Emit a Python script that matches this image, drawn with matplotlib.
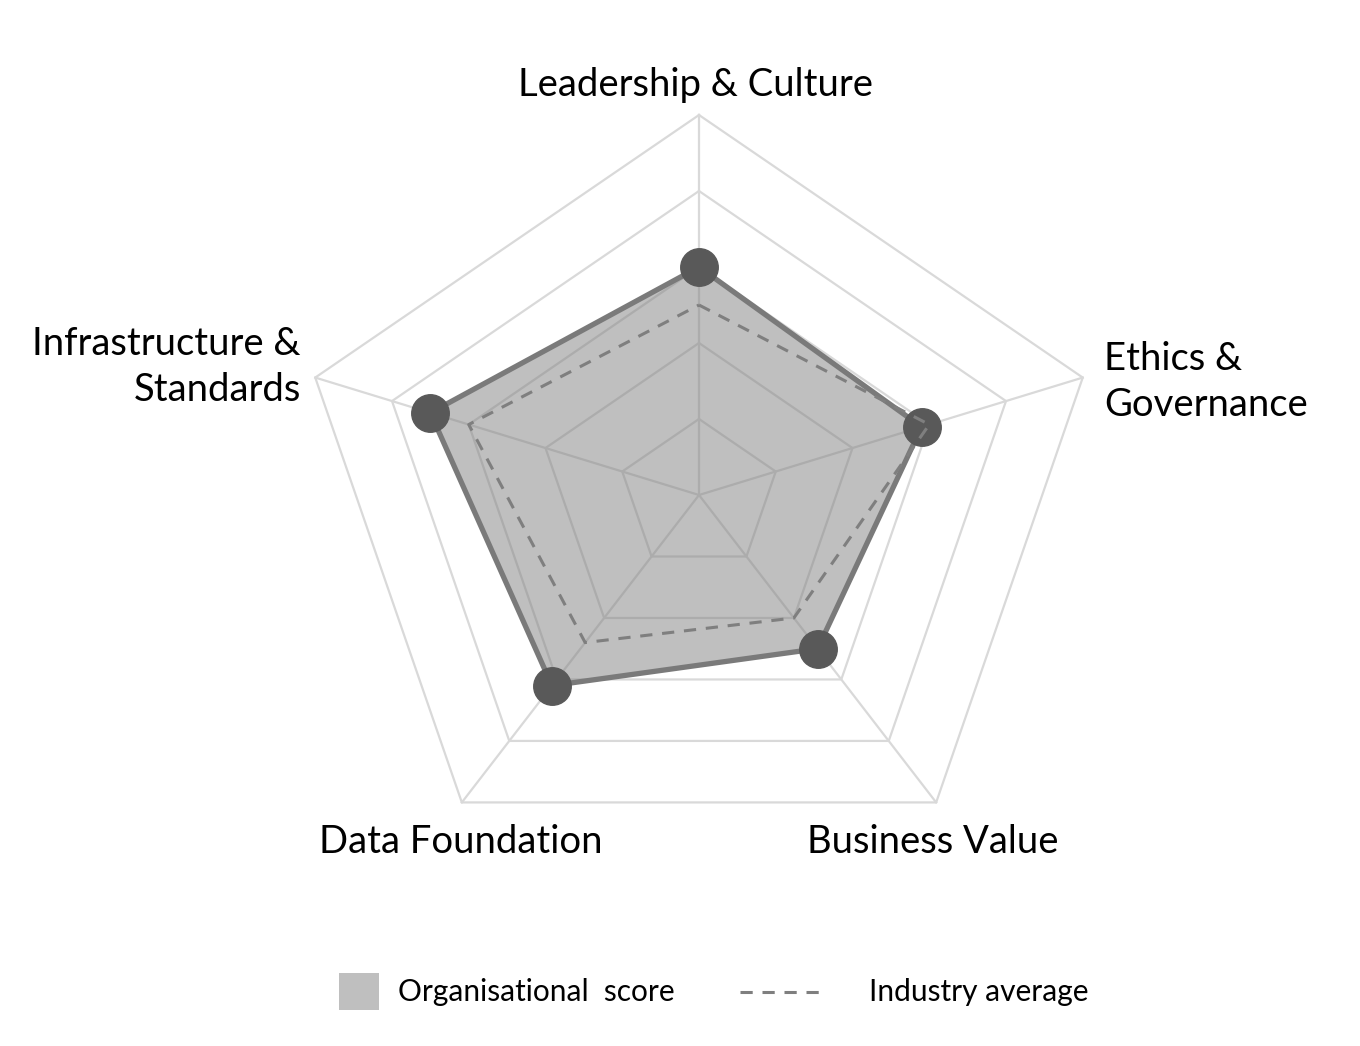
import numpy as np
import matplotlib
matplotlib.use("Agg")
import matplotlib.pyplot as plt
from matplotlib.patches import Rectangle
from matplotlib.lines import Line2D

# maturity scores per dimension (0-5 scale)
categories = ["Leadership & Culture", "Ethics &\nGovernance", "Business Value",
              "Data Foundation", "Infrastructure &\nStandards"]
org_score = [3.0, 2.9, 2.5, 3.1, 3.5]
industry_avg = [2.5, 3.0, 2.0, 2.4, 3.0]
levels = [1, 2, 3, 4, 5]

W, H = 1360, 1046
cx, cy = 699, 495          # chart centre in pixels
sx, sy = 80.7, 76.0        # pixels per score unit (x is stretched like the original)

plt.rcParams['font.family'] = ['Lato', 'DejaVu Sans']

fig = plt.figure(figsize=(W / 100, H / 100), dpi=100)
ax = fig.add_axes([0, 0, 1, 1])
ax.set_xlim(-cx / sx, (W - cx) / sx)
ax.set_ylim(-(H - cy) / sy, cy / sy)
ax.axis('off')

angles = np.deg2rad(90 - 72 * np.arange(len(categories)))


def to_xy(values):
    v = np.asarray(values, dtype=float)
    x = v * np.cos(angles)
    y = v * np.sin(angles)
    return np.append(x, x[0]), np.append(y, y[0])


grid_col = '#d9d9d9'
for lv in levels:
    gx, gy = to_xy([lv] * len(categories))
    ax.plot(gx, gy, color=grid_col, lw=1.6, zorder=1)
for a in angles:
    ax.plot([0, max(levels) * np.cos(a)], [0, max(levels) * np.sin(a)],
            color=grid_col, lw=1.6, zorder=1)

# organisational score
ox, oy = to_xy(org_score)
ax.fill(ox, oy, color='#808080', alpha=0.5, lw=0, zorder=2)
ax.plot(ox, oy, color='#7a7a7a', lw=3.8, zorder=3, solid_joinstyle='miter')
ax.plot(ox[:-1], oy[:-1], 'o', color='#595959', ms=27, zorder=4)

# industry average
ix, iy = to_xy(industry_avg)
ax.plot(ix, iy, color='#7f7f7f', lw=2.2, dashes=(4, 3.2), zorder=5)

# axis labels
label_pos = [
    (696, 85, 'center'),
    (1104, 382, 'left'),
    (933, 842, 'center'),
    (461, 842, 'center'),
    (301, 367, 'right'),
]
for name, (px, py, ha) in zip(categories, label_pos):
    fig.text(px / W, 1 - py / H, name, ha=ha, va='center', fontsize=27.5,
             linespacing=1.36, multialignment=ha)

# legend
fig.add_artist(Rectangle((339 / W, 1 - 1010 / H), 40 / W, 37 / H,
                         transform=fig.transFigure, color='#bfbfbf', lw=0))
fig.text(398 / W, 1 - 992 / H, "Organisational  score", ha='left', va='center',
         fontsize=21.5)
fig.add_artist(Line2D([740 / W, 823 / W], [1 - 992 / H, 1 - 992 / H],
                      transform=fig.transFigure, color='#7f7f7f', lw=2.2,
                      dashes=(4, 3.2)))
fig.text(869 / W, 1 - 992 / H, "Industry average", ha='left', va='center',
         fontsize=21.5)

fig.savefig('out.png', dpi=100, facecolor='white')
